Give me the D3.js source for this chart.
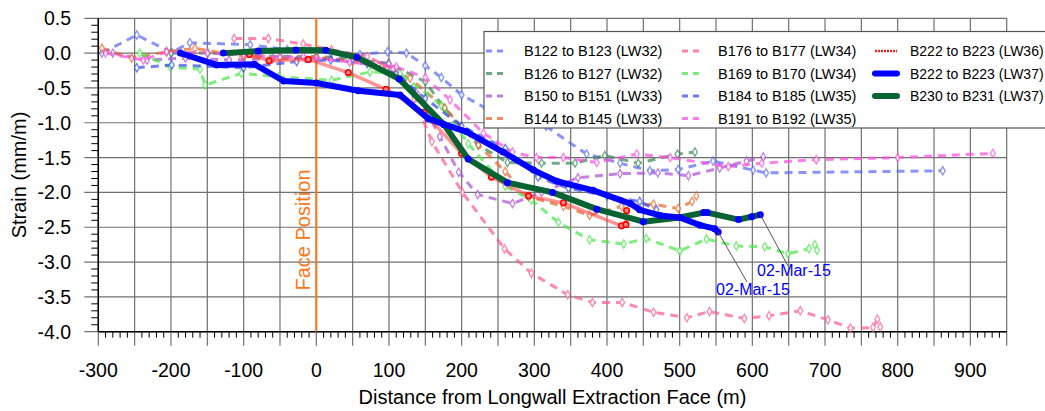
<!DOCTYPE html>
<html>
<head>
<meta charset="utf-8">
<script src="https://cdn.jsdelivr.net/npm/d3@7"></script>
<style>
  body { margin: 0; background: #fff; }
  text { font-family: Arial, "Liberation Sans", sans-serif; }
</style>
</head>
<body>
<div id="chart"></div>
<script>
var width = 1045;
var height = 411;

// series values [distance (m), strain (mm/m)]
var b122_lw32 = [[-295,0],[-247,0.26],[-199,0.01],[-174,0.15],[-91,0.12],[-40,0.05],[20,0.0],[60,-0.02],[98,0.02],[124,0.0],[150,-0.18],[172,-0.35],[200,-0.6],[233,-0.79],[283,-1.0],[316,-1.05],[372,-1.45],[418,-1.58],[459,-1.69],[498,-1.67],[546,-1.55],[601,-1.68],[619,-1.72],[862,-1.69]];
var b126_lw32 = [[-200,0.0],[-149,0.0],[-100,-0.02],[-50,-0.05],[0,-0.05],[50,-0.08],[99,-0.15],[150,-0.41],[176,-0.79],[223,-1.32],[263,-1.57],[310,-1.58],[356,-1.58],[397,-1.47],[443,-1.58],[497,-1.45],[521,-1.42]];
var b150_lw33 = [[-280,0],[-233,-0.1],[-180,-0.07],[-120,-0.1],[-60,-0.08],[0,-0.07],[50,-0.1],[100,-0.15],[140,-0.6],[170,-1.2],[196,-1.71],[222,-2.03],[270,-2.16],[310,-2.0],[360,-1.79],[418,-1.73],[470,-1.72],[512,-1.76],[555,-1.65],[592,-1.55],[615,-1.49]];
var b144_lw33 = [[-295,0.07],[-254,-0.07],[-206,0.02],[-167,0.07],[-100,-0.05],[-50,-0.08],[0,-0.06],[50,-0.12],[90,-0.2],[129,-0.36],[177,-0.79],[223,-1.32],[260,-1.7],[292,-2.06],[340,-2.2],[376,-2.33],[420,-2.2],[464,-2.17],[498,-2.23],[517,-2.13],[523,-2.05]];
var b176_lw34 = [[-113,0.21],[-66,0.21],[-18,0.13],[21,0.05],[70,-0.05],[106,-0.23],[135,-0.65],[159,-1.27],[201,-2.0],[259,-2.81],[296,-3.16],[346,-3.47],[380,-3.58],[421,-3.58],[464,-3.72],[510,-3.80],[541,-3.71],[589,-3.81],[623,-3.77],[666,-3.70],[704,-3.83],[735,-3.95],[766,-3.94],[772,-3.82],[776,-3.93]];
var b169_lw34 = [[-243,0],[-201,-0.2],[-160,-0.23],[-153,-0.46],[-103,-0.29],[-52,-0.34],[21,-0.39],[74,-0.27],[115,-0.29],[172,-0.75],[209,-1.30],[260,-1.91],[296,-2.11],[333,-2.43],[376,-2.68],[423,-2.74],[454,-2.66],[500,-2.84],[537,-2.67],[578,-2.77],[617,-2.78],[649,-2.88],[678,-2.81],[686,-2.75],[689,-2.83]];
var b184_lw35 = [[-247,-0.21],[-199,-0.17],[-100,-0.21],[-27,-0.12],[20,-0.1],[70,-0.15],[110,-0.3],[150,-0.65],[200,-1.05],[260,-1.37],[305,-1.78],[347,-1.94],[400,-2.05],[445,-2.13],[468,-2.25]];
var b191_lw35 = [[-290,0],[-238,-0.1],[-206,0.02],[-150,0.0],[-100,-0.02],[-50,-0.06],[-18,-0.05],[46,-0.13],[110,-0.2],[150,-0.35],[184,-0.67],[230,-1.15],[270,-1.42],[303,-1.50],[340,-1.5],[386,-1.57],[441,-1.45],[487,-1.50],[567,-1.63],[613,-1.58],[688,-1.53],[800,-1.5],[931,-1.44]];
var b222_lw36 = [[-92,-0.02],[-65,-0.11],[-11,-0.09],[44,-0.28],[96,-0.52],[148,-0.85],[200,-1.44],[241,-1.78],[292,-2.05],[340,-2.15],[420,-2.48],[426,-2.46],[427,-2.26]];
var b222_lw37 = [[-187,0],[-137,-0.17],[-85,-0.16],[-45,-0.40],[0,-0.43],[58,-0.54],[115,-0.60],[154,-0.94],[175,-1.02],[207,-1.13],[257,-1.42],[299,-1.68],[331,-1.84],[381,-1.97],[432,-2.16],[445,-2.25],[473,-2.33],[500,-2.36],[528,-2.47],[548,-2.52],[553,-2.57]];
var b230_lw37 = [[-128,0.0],[-80,0.03],[-28,0.045],[13,0.04],[56,-0.06],[114,-0.37],[176,-1.03],[209,-1.52],[263,-1.86],[325,-2.0],[386,-2.24],[450,-2.42],[500,-2.36],[533,-2.29],[538,-2.29],[581,-2.39],[599,-2.35],[611,-2.32]];

var seriesNames = ["B122 to B123 (LW32)","B126 to B127 (LW32)","B150 to B151 (LW33)","B144 to B145 (LW33)",
                   "B176 to B177 (LW34)","B169 to B170 (LW34)","B184 to B185 (LW35)","B191 to B192 (LW35)",
                   "B222 to B223 (LW36)","B222 to B223 (LW37)","B230 to B231 (LW37)"];
var seriesData = [b122_lw32,b126_lw32,b150_lw33,b144_lw33,b176_lw34,b169_lw34,b184_lw35,b191_lw35,b222_lw36,b222_lw37,b230_lw37];
var seriesColors = ["#5b6cf5","#3d8a5c","#b14fd8","#e8672e","#ff5c93","#4be84b","#3b4ef0","#ff4fe0","#ff2020","#0000ff","#086231"];

var xTicks = [-300,-200,-100,0,100,200,300,400,500,600,700,800,900];
var yTicks = [0.5,0.0,-0.5,-1.0,-1.5,-2.0,-2.5,-3.0,-3.5,-4.0];

var lastSurvey = "02-Mar-15";

var pLeft = 98.3, pRight = 1006.7, pTop = 18.3, pBottom = 331.7;

var x = d3.scaleLinear().domain([-300, 950]).range([pLeft, pRight]);
var y = d3.scaleLinear().domain([-4.0, 0.5]).range([pBottom, pTop]);

var svg = d3.select("#chart").append("svg").attr("width", width).attr("height", height);

// grid
var grid = svg.append("g");
grid.selectAll(".vg").data(d3.range(-300, 951, 50)).join("line")
  .attr("x1", d => x(d)).attr("x2", d => x(d)).attr("y1", pTop).attr("y2", pBottom + 14)
  .attr("stroke", "#707070").attr("stroke-width", 1.2);
grid.selectAll(".hg").data(yTicks).join("line")
  .attr("x1", pLeft - 14).attr("x2", pRight).attr("y1", d => y(d)).attr("y2", d => y(d))
  .attr("stroke", "#707070").attr("stroke-width", 1.2);

// minor ticks
grid.selectAll(".xm").data(d3.range(-300, 951, 10).filter(d => d % 50 != 0)).join("line")
  .attr("x1", d => x(d)).attr("x2", d => x(d)).attr("y1", pBottom).attr("y2", pBottom + 6)
  .attr("stroke", "#000").attr("stroke-width", 1);
grid.selectAll(".ym").data(d3.range(-40, 5, 1).filter(d => d % 5 != 0)).join("line")
  .attr("x1", pLeft - 7).attr("x2", pLeft).attr("y1", d => y(d / 10)).attr("y2", d => y(d / 10))
  .attr("stroke", "#000").attr("stroke-width", 1);

// axis lines
svg.append("line").attr("x1", pLeft).attr("x2", pRight).attr("y1", pBottom).attr("y2", pBottom).attr("stroke", "#000").attr("stroke-width", 1.5);
svg.append("line").attr("x1", pLeft).attr("x2", pLeft).attr("y1", pTop).attr("y2", pBottom).attr("stroke", "#000").attr("stroke-width", 1.5);

// tick labels
svg.selectAll(".xl").data(xTicks).join("text")
  .attr("x", d => x(d)).attr("y", 377).attr("text-anchor", "middle")
  .attr("font-size", 19.5).text(d => d);
svg.selectAll(".yl").data(yTicks).join("text")
  .attr("x", 71).attr("y", d => y(d) + 7).attr("text-anchor", "end")
  .attr("font-size", 19.5).text(d => d.toFixed(1));

// axis titles
svg.append("text").attr("x", (pLeft + pRight) / 2).attr("y", 404).attr("text-anchor", "middle")
  .attr("font-size", 20).text("Distance from Longwall Extraction Face (m)");
svg.append("text").attr("transform", "translate(26," + ((pTop + pBottom) / 2) + ") rotate(-90)")
  .attr("text-anchor", "middle").attr("font-size", 20).text("Strain (mm/m)");

// face position
svg.append("line").attr("x1", x(0)).attr("x2", x(0)).attr("y1", pTop).attr("y2", pBottom)
  .attr("stroke", "#ff7518").attr("stroke-width", 2);
svg.append("text").attr("transform", "translate(310,230) rotate(-90)")
  .attr("text-anchor", "middle").attr("font-size", 20).attr("fill", "#ff7518").text("Face Position");

var line = d3.line().x(d => x(d[0])).y(d => y(d[1]));
var diamond = d3.symbol().type(d3.symbolDiamond).size(20);

// dashed series
var plot = svg.append("g");
for (var i = 0; i < 8; i++) {
  var g = plot.append("g").attr("opacity", 0.72);
  g.append("path").datum(seriesData[i]).attr("d", line).attr("fill", "none")
    .attr("stroke", seriesColors[i]).attr("stroke-width", 3).attr("stroke-dasharray", "8,6");
  g.selectAll("path.m").data(seriesData[i]).join("path").attr("class", "m")
    .attr("d", diamond).attr("transform", d => "translate(" + x(d[0]) + "," + y(d[1]) + ")")
    .attr("fill", "#fff").attr("stroke", seriesColors[i]).attr("stroke-width", 1.3);
}

// LW36 series
var rg = plot.append("g");
rg.append("path").datum(b222_lw36).attr("d", line).attr("fill", "none")
  .attr("stroke", "rgba(255,60,60,0.55)").attr("stroke-width", 3.5);
rg.selectAll("circle").data(b222_lw36).join("circle")
  .attr("cx", d => x(d[0])).attr("cy", d => y(d[1])).attr("r", 2.8)
  .attr("fill", "#ff8888").attr("stroke", "#ff0000").attr("stroke-width", 1.6);

// LW37 series
[10, 9].forEach(function(k) {
  var gg = plot.append("g");
  gg.append("path").datum(seriesData[k]).attr("d", line).attr("fill", "none")
    .attr("stroke", seriesColors[k]).attr("stroke-width", 6).attr("stroke-linejoin", "round");
  gg.selectAll("circle").data(seriesData[k]).join("circle")
    .attr("cx", d => x(d[0])).attr("cy", d => y(d[1])).attr("r", 3.5).attr("fill", "#0000ff");
});

// annotations
var annos = [
  {pt: b230_lw37[b230_lw37.length - 1], tx: 788, ty: 266, lx: 757, ly: 276},
  {pt: b222_lw37[b222_lw37.length - 1], tx: 747, ty: 282, lx: 716, ly: 295}
];
annos.forEach(function(a) {
  svg.append("line").attr("x1", x(a.pt[0])).attr("y1", y(a.pt[1])).attr("x2", a.tx).attr("y2", a.ty)
    .attr("stroke", "#555").attr("stroke-width", 1);
  svg.append("text").attr("x", a.lx).attr("y", a.ly).attr("font-size", 16).attr("fill", "#0000ff").text(lastSurvey);
});

// legend
var lg = svg.append("g");
lg.append("rect").attr("x", 484).attr("y", 31.5).attr("width", 600).attr("height", 96.5)
  .attr("fill", "#fff").attr("stroke", "#555").attr("stroke-width", 1.2);
var colX = [486, 682, 875], textX = [524, 718, 910];
seriesNames.forEach(function(name, i) {
  var col = i < 4 ? 0 : (i < 8 ? 1 : 2);
  var row = i < 4 ? i : (i < 8 ? i - 4 : i - 8);
  var by = 56 + row * 22.5;
  var s = lg.append("line").attr("x1", colX[col]).attr("x2", colX[col] + 22)
    .attr("y1", by - 5).attr("y2", by - 5).attr("stroke", seriesColors[i]);
  if (i < 8) s.attr("stroke-width", 3).attr("stroke-dasharray", "6,5").attr("opacity", 0.75);
  else if (i == 8) s.attr("stroke-width", 2.5).attr("stroke-dasharray", "2,1").attr("stroke", "#ff2020");
  else s.attr("stroke-width", 6).attr("stroke-linecap", "round");
  lg.append("text").attr("x", textX[col]).attr("y", by).attr("font-size", col == 2 ? 14 : 14.5).text(name);
});
</script>
</body>
</html>
